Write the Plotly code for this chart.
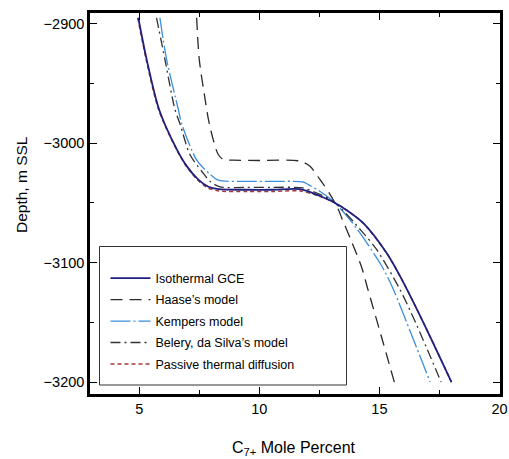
import plotly.graph_objects as go

# ---- data ----
iso_x = [4.96, 5.31, 5.83, 6.56, 6.97, 7.46, 7.88, 8.3, 9.5, 10.5, 11.7, 12.5, 13.1, 13.7, 14.33, 15.3, 15.93, 16.85, 18.0]
iso_y = [-2895, -2930, -2972, -3005, -3019, -3030.5, -3036.5, -3038.5, -3039, -3039, -3038.5, -3044, -3049.5, -3057, -3067, -3092, -3114, -3151, -3200]

haa_x = [7.39, 7.5, 7.74, 7.88, 8.08, 8.29, 8.5, 8.9, 10.0, 11.7, 12.11, 12.53, 12.95, 13.29, 13.43, 13.78, 14.27, 14.5, 15.07, 15.62]
haa_y = [-2895, -2930, -2963, -2980, -2997, -3009.5, -3013.7, -3014.2, -3014.5, -3015, -3019.4, -3030.6, -3043, -3055.6, -3062.6, -3079.4, -3104.5, -3121, -3161, -3200]

kem_x = [5.86, 6.14, 6.63, 6.77, 7.39, 7.95, 8.29, 9.5, 10.5, 11.83, 12.04, 12.5, 13.1, 13.85, 14.48, 15.1, 15.55, 16.33, 17.11]
kem_y = [-2895, -2930, -2972, -2984, -3014, -3026, -3031, -3032, -3032, -3032.5, -3034.7, -3040, -3049, -3066, -3083.6, -3103, -3121, -3160, -3200]

bel_x = [5.72, 6.07, 6.49, 6.7, 7.11, 7.6, 7.95, 8.36, 9.5, 10.5, 11.8, 12.39, 13.1, 14.27, 14.89, 15.86, 16.5, 17.57]
bel_y = [-2895, -2930, -2972, -2984, -3009.5, -3023.5, -3032, -3036.6, -3037, -3037, -3037.5, -3041.7, -3049, -3073.8, -3089.2, -3122.7, -3150, -3200]

pas_x = [4.94, 5.29, 5.81, 6.54, 6.95, 7.44, 7.86, 8.3, 9.5, 10.5, 11.7, 12.5, 13.1, 13.7, 14.33, 15.3, 15.93, 16.85, 18.0]
pas_y = [-2895, -2930, -2972, -3005, -3019, -3031, -3037.5, -3040, -3040.5, -3040.5, -3040, -3044.5, -3049.5, -3057, -3067, -3092, -3114, -3151, -3200]

x_ticks = [5, 10, 15, 20]
y_ticks = [-2900, -3000, -3100, -3200]

FONT = "Liberation Sans, Arial, sans-serif"

fig = go.Figure()

def add(x, y, name, color, width, dash, rank):
    fig.add_trace(go.Scatter(
        x=x, y=y, mode="lines", name=name, legendrank=rank,
        legendgroup=name,
        line=dict(color=color, width=width, dash=dash, shape="spline", smoothing=0.8),
    ))

add(pas_x, pas_y, "Passive thermal diffusion", "#a53a3a", 1.5, "4px,3px", 5)
add(haa_x, haa_y, "Haase\u2019s model", "#2a2a2a", 1.3, "12px,7px", 2)
add(kem_x, kem_y, "Kempers model", "#3a8fdc", 1.3, "20px,3px,2px,3px", 3)
add(bel_x, bel_y, "Belery, da Silva\u2019s model", "#333333", 1.3, "10px,4px,2px,4px", 4)
add(iso_x, iso_y, "Isothermal GCE", "#1f1f80", 1.8, "solid", 1)

# body margin is removed in the page, so figure origin = page origin
W, H = 509, 459
P_LEFT, P_RIGHT, P_TOP, P_BOT = 90, 500, 13, 394   # plot area in page pixels
L, R, T, B = P_LEFT, W - P_RIGHT, P_TOP, H - P_BOT

def px(xp):
    return (xp - P_LEFT) / (P_RIGHT - P_LEFT)

def py(yp):
    return (P_BOT - yp) / (P_BOT - P_TOP)

fig.add_shape(type="rect", xref="paper", yref="paper",
              x0=px(99.5), x1=px(346.5), y0=py(385), y1=py(246.5),
              line=dict(color="#333333", width=1), fillcolor="white", layer="below")

axis_common = dict(
    showgrid=False, zeroline=False, showline=True, linecolor="black", linewidth=2.5,
    mirror="allticks", ticks="inside", ticklen=7, tickwidth=1, tickcolor="black",
    ticklabeloverflow="allow",
    tickfont=dict(family=FONT, size=14.5, color="black"),
)

fig.update_layout(
    width=W, height=H,
    margin=dict(l=L, r=R, t=T, b=B, autoexpand=False),
    paper_bgcolor="white", plot_bgcolor="white",
    xaxis=dict(range=[2.95, 20.02], tickvals=x_ticks, ticktext=[str(v) for v in x_ticks],
               minor=dict(ticks="inside", ticklen=4, dtick=2.5, tick0=0, tickcolor="black", showgrid=False),
               **axis_common),
    yaxis=dict(range=[-3210, -2891], tickvals=y_ticks,
               ticktext=["\u2212" + str(abs(v)) for v in y_ticks],
               minor=dict(ticks="inside", ticklen=4, dtick=50, tick0=0, tickcolor="black", showgrid=False),
               **axis_common),
    showlegend=True,
    legend=dict(x=px(105.5), y=py(263.5), xanchor="left", yanchor="top",
                bgcolor="rgba(0,0,0,0)", borderwidth=0,
                font=dict(family=FONT, size=12.5, color="black"),
                tracegroupgap=2.2, itemwidth=40, traceorder="grouped"),
    annotations=[
        dict(text="C<sub>7+</sub> Mole Percent", xref="paper", yref="paper",
             x=px(294), y=py(448), xanchor="center", yanchor="middle", showarrow=False,
             font=dict(family=FONT, size=16, color="black")),
        dict(text="Depth, m SSL", xref="paper", yref="paper", textangle=-90,
             x=px(21), y=py(185), xanchor="center", yanchor="middle", showarrow=False,
             font=dict(family=FONT, size=15.5, color="black")),
    ],
)

fig.write_html(
    "out.html",
    config={"displayModeBar": False},
    post_script="document.documentElement.style.margin='0';document.body.style.margin='0';"
                "document.body.style.padding='0';document.body.style.overflow='hidden';",
)
